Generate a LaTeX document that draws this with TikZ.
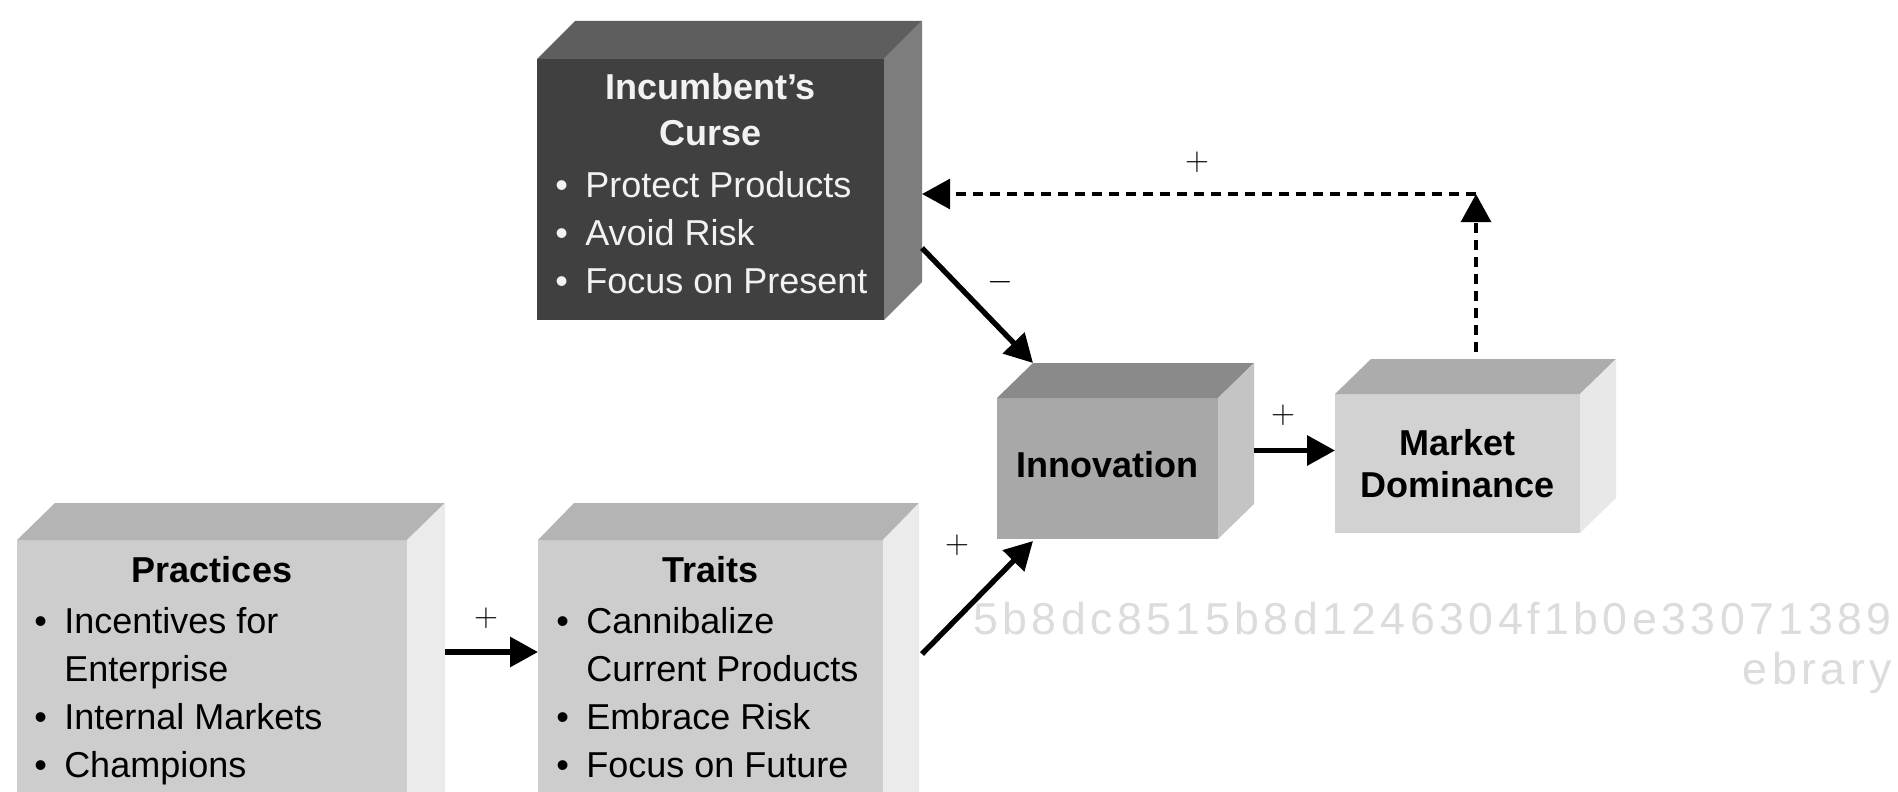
\documentclass[tikz,border=0pt]{standalone}
\usepackage{fontspec}
\setmainfont{Liberation Sans}
\newfontfamily\wmfont[LetterSpace=10]{Liberation Sans}
\usepackage{xcolor}
\usetikzlibrary{arrows.meta,calc}

\definecolor{curseFront}{HTML}{404040}
\definecolor{curseTop}{HTML}{5E5E5E}
\definecolor{curseSide}{HTML}{7D7D7D}
\definecolor{curseText}{HTML}{F2F2F2}
\definecolor{innovFront}{HTML}{A8A8A8}
\definecolor{innovTop}{HTML}{8A8A8A}
\definecolor{innovSide}{HTML}{C4C4C4}
\definecolor{marketFront}{HTML}{D2D2D2}
\definecolor{marketTop}{HTML}{ACACAC}
\definecolor{marketSide}{HTML}{E8E8E8}
\definecolor{lowFront}{HTML}{CDCDCD}
\definecolor{lowTop}{HTML}{B4B4B4}
\definecolor{lowSide}{HTML}{EBEBEB}
\definecolor{wmGray}{HTML}{DCDCDC}

\newcommand{\bul}{\makebox[22.5pt][l]{\textbullet}}
\newcommand{\ind}{\hspace*{22.5pt}}

\begin{document}
\begin{tikzpicture}[x=0.75pt,y=0.75pt,yscale=-1,xscale=1,
  face/.style={inner sep=0pt,outer sep=0pt},
  boxtext/.style={inner sep=0pt,font=\fontsize{27}{36}\selectfont},
  titletext/.style={inner sep=0pt,font=\fontsize{27}{34}\selectfont\bfseries,align=center},
  arr/.style={line width=4pt,-{Triangle[length=21pt,width=22pt]}},
  dasharr/.style={arr,line width=3.6pt,dash pattern=on 7.5pt off 5.25pt},
  sign/.style={inner sep=0pt,font=\fontsize{28}{28}\selectfont},
  wm/.style={inner sep=0pt,text=wmGray,font=\wmfont\fontsize{33.5}{33.5}\selectfont}]

\useasboundingbox (0,0) rectangle (1898,792);
\clip (0,0) rectangle (1898,792);
\fill[white] (0,0) rectangle (1898,792);

\node[wm,anchor=base east] (wmCode) at (1892,634) {5b8dc8515b8d1246304f1b0e33071389};
\node[wm,anchor=base east] (wmSite) at (1892,684) {ebrary};

\node[face,fill=curseFront,minimum width=260.25pt,minimum height=195.75pt] (curse) at (710.5,189.5) {};
\fill[curseTop] (curse.north west) -- ++(38,-38) -- ($(curse.north east)+(38,-38)$) -- (curse.north east) -- cycle;
\fill[curseSide] (curse.north east) -- ++(38,-38) -- ($(curse.south east)+(38,-38)$) -- (curse.south east) -- cycle;

\node[face,fill=innovFront,minimum width=165.75pt,minimum height=105.75pt] (innov) at (1107.5,468.5) {};
\fill[innovTop] (innov.north west) -- ++(36,-35) -- ($(innov.north east)+(36,-35)$) -- (innov.north east) -- cycle;
\fill[innovSide] (innov.north east) -- ++(36,-35) -- ($(innov.south east)+(36,-35)$) -- (innov.south east) -- cycle;

\node[face,fill=marketFront,minimum width=183.75pt,minimum height=104.25pt] (market) at (1457.5,463.5) {};
\fill[marketTop] (market.north west) -- ++(36,-35) -- ($(market.north east)+(36,-35)$) -- (market.north east) -- cycle;
\fill[marketSide] (market.north east) -- ++(36,-35) -- ($(market.south east)+(36,-35)$) -- (market.south east) -- cycle;

\node[face,fill=lowFront,minimum width=292.5pt,minimum height=217.5pt] (practices) at (212,685) {};
\fill[lowTop] (practices.north west) -- ++(38,-37) -- ($(practices.north east)+(38,-37)$) -- (practices.north east) -- cycle;
\fill[lowSide] (practices.north east) -- ++(38,-37) -- ($(practices.south east)+(38,-37)$) -- (practices.south east) -- cycle;

\node[face,fill=lowFront,minimum width=258.75pt,minimum height=217.5pt] (traits) at (710.5,685) {};
\fill[lowTop] (traits.north west) -- ++(36,-37) -- ($(traits.north east)+(36,-37)$) -- (traits.north east) -- cycle;
\fill[lowSide] (traits.north east) -- ++(36,-37) -- ($(traits.south east)+(36,-37)$) -- (traits.south east) -- cycle;

\node[titletext,text=curseText,anchor=base] (curseTitle) at (710.5,145) {Incumbent’s\\Curse};
\node[boxtext,text=curseText,anchor=base west,align=left] (curseList) at (555,293) {\bul Protect Products\\\bul Avoid Risk\\\bul Focus on Present};

\node[titletext,anchor=base] (innovTitle) at (1107.5,477) {Innovation};
\node[titletext,font=\fontsize{27}{31.5}\selectfont\bfseries,anchor=base] (marketTitle) at (1457.5,497) {Market\\Dominance};

\node[titletext,anchor=base] (practicesTitle) at (212,582) {Practices};
\node[boxtext,anchor=base west,align=left] (practicesList) at (34,777) {\bul Incentives for\\\ind Enterprise\\\bul Internal Markets\\\bul Champions};

\node[titletext,anchor=base] (traitsTitle) at (710.5,582) {Traits};
\node[boxtext,anchor=base west,align=left] (traitsList) at (556,777) {\bul Cannibalize\\\ind Current Products\\\bul Embrace Risk\\\bul Focus on Future};

\draw[arr] ($(practices.north east)+(38,112)$) -- ($(traits.north west)+(0,112)$);
\draw[arr] ($(traits.north east)+(39,114)$) -- ($(innov.south west)+(36,2)$);
\draw[arr] ($(curse.north east)+(38,189)$) -- ($(innov.north west)+(36,-35)$);
\draw[arr] ($(innov.east)+(36,-18)$) -- ($(market.west)+(0,-13)$);

\coordinate (turn) at ($(market.north)+(18.5,-200)$);
\draw[dasharr] ($(market.north)+(18.5,-42)$) -- (turn);
\draw[dasharr] (turn) -- ($(curse.north east)+(38,135)$);

\node[sign] (plusPT) at (486,618) {$+$};
\node[sign] (plusTI) at (957,545) {$+$};
\node[sign] (minusCI) at (1000,282) {$-$};
\node[sign] (plusIM) at (1283,415) {$+$};
\node[sign] (plusMC) at (1197,162) {$+$};

\end{tikzpicture}
\end{document}
